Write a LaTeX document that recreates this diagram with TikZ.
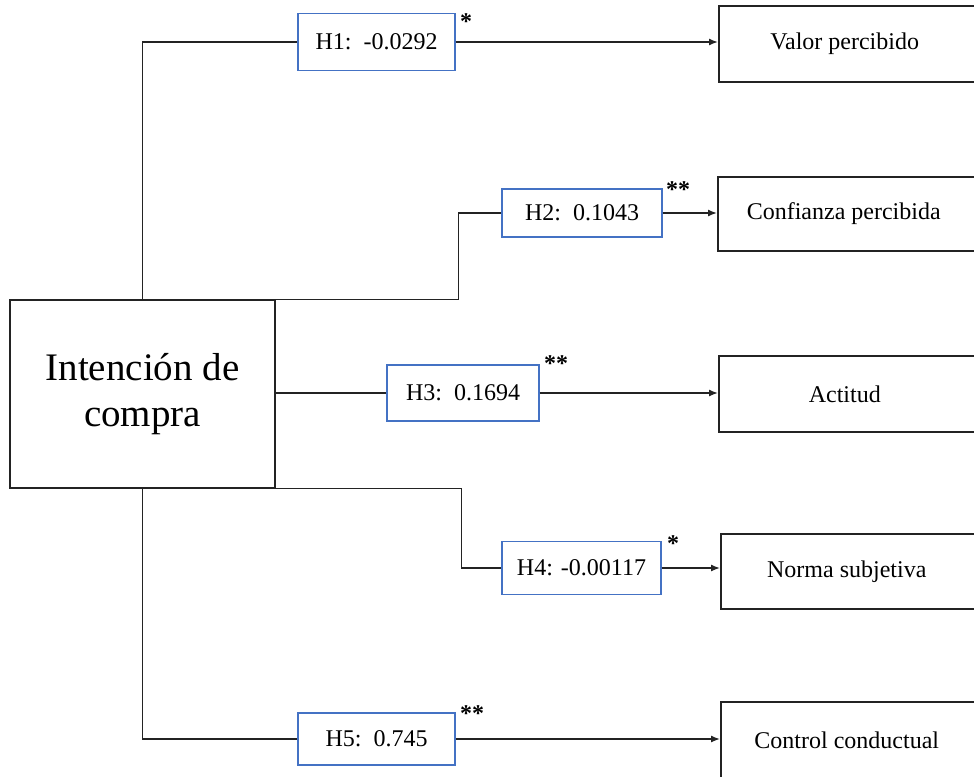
\documentclass[tikz,border=0pt]{standalone}
\usepackage{fontspec}
\setmainfont{Liberation Serif}
\usetikzlibrary{arrows.meta}
\definecolor{hblue}{RGB}{68,114,196}
\definecolor{lin}{RGB}{35,35,35}
\begin{document}
\begin{tikzpicture}[x=1pt,y=-1pt,
  conn/.style={draw=lin,line width=1.4pt},
  arr/.style={conn,-{Latex[length=9pt,width=7pt]}},
  hbox/.style={draw=hblue,line width=1.3pt,fill=white,inner sep=0pt,font=\fontsize{24}{28}\selectfont},
  tbox/.style={draw=lin,line width=1.5pt,inner sep=0pt,anchor=west,minimum width=262pt,font=\fontsize{24}{28}\selectfont},
  mbox/.style={draw=lin,line width=1.5pt,inner sep=0pt,align=center,font=\fontsize{39}{46}\selectfont},
  star/.style={inner sep=0pt,anchor=base,font=\fontsize{24}{28}\selectfont\bfseries}]
\useasboundingbox (0,0) rectangle (974,776);
\clip (0,0) rectangle (974,776);
\fill[white] (0,0) rectangle (974,776);

% main box
\node[mbox,minimum width=265pt,minimum height=188pt] (main) at (142.5,394) {Intención de\\compra};

% target boxes
\node[tbox,minimum height=76pt] (valor) at (718,44) {\makebox[252pt]{Valor percibido}\hspace*{10pt}};
\node[tbox,minimum height=74pt] (conf) at (717,214) {\makebox[252pt]{Confianza percibida}\hspace*{10pt}};
\node[tbox,minimum height=76pt] (act) at (718,394) {\makebox[252pt]{Actitud}\hspace*{10pt}};
\node[tbox,minimum height=75pt] (norma) at (720,571.5) {\makebox[252pt]{Norma subjetiva}\hspace*{10pt}};
\node[tbox,minimum height=76pt] (ctrl) at (720,740) {\makebox[252pt]{Control conductual}\hspace*{10pt}};

% hypothesis boxes
\node[hbox,minimum width=157pt,minimum height=57pt] (h1) at (376.5,42) {H1:\ \ -0.0292};
\node[hbox,minimum width=160pt,minimum height=48pt] (h2) at (582,213) {H2:\ \ 0.1043};
\node[hbox,minimum width=152pt,minimum height=56pt] (h3) at (463,393) {H3:\ \ 0.1694};
\node[hbox,minimum width=159pt,minimum height=53pt] (h4) at (581.5,568) {H4: -0.00117};
\node[hbox,minimum width=157pt,minimum height=52pt] (h5) at (376.5,739) {H5:\ \ 0.745};

% stars
\node[star] (s1) at (466,30) {*};
\node[star] (s2) at (678,197) {**};
\node[star] (s3) at (556,371) {**};
\node[star] (s4) at (673,551) {*};
\node[star] (s5) at (472,721) {**};

% connectors
\draw[conn] (main.north) |- (h1.west);
\draw[arr] (h1.east) -- (h1.east -| valor.west);

\draw[conn] (main.north east) -| ([xshift=-43pt]h2.west) -- (h2.west);
\draw[arr] (h2.east) -- (h2.east -| conf.west);

\draw[conn] (main.east |- h3.west) -- (h3.west);
\draw[arr] (h3.east) -- (h3.east -| act.west);

\draw[conn] (main.south east) -| ([xshift=-40pt]h4.west) -- (h4.west);
\draw[arr] (h4.east) -- (h4.east -| norma.west);

\draw[conn] (main.south) |- (h5.west);
\draw[arr] (h5.east) -- (h5.east -| ctrl.west);
\end{tikzpicture}
\end{document}
